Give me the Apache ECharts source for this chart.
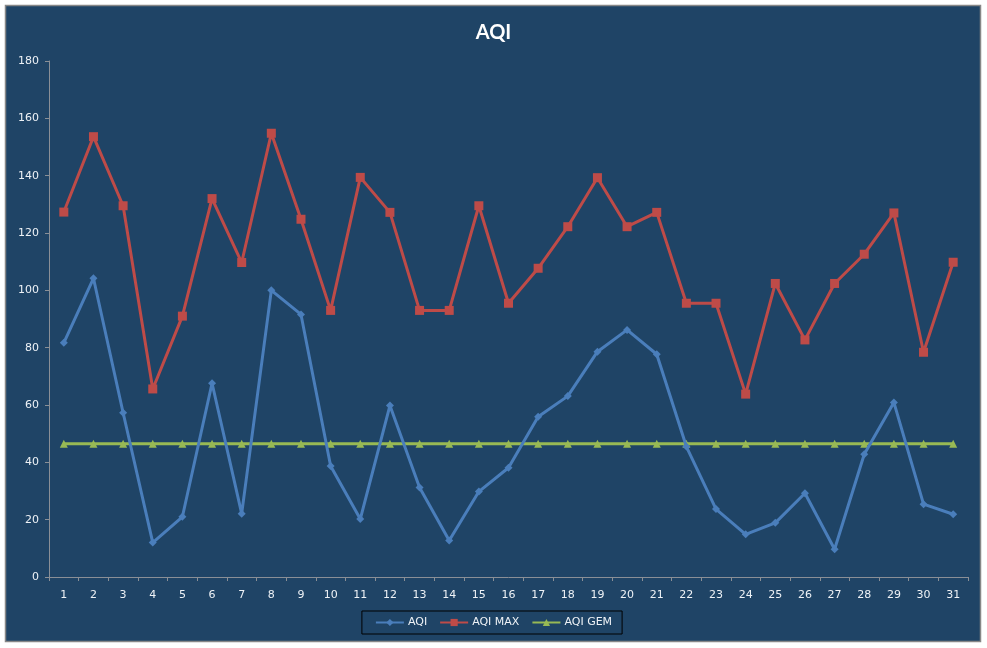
<!DOCTYPE html>
<html>
<head>
<meta charset="utf-8">
<script src="https://cdn.jsdelivr.net/npm/echarts@6/dist/echarts.min.js"></script>
<style>
  html, body { margin: 0; padding: 0; background: #fff; }
  #chart { width: 987px; height: 648px; }
</style>
</head>
<body>
<div id="chart"></div>
<script>
  // Daily AQI values
  const days = ["1","2","3","4","5","6","7","8","9","10","11","12","13","14","15","16",
                "17","18","19","20","21","22","23","24","25","26","27","28","29","30","31"];
  const aqi = [81.7, 104.2, 57.3, 12, 21, 67.6, 22.1, 100, 91.6, 38.7,
               20.2, 59.8, 31.2, 12.7, 29.8, 38.1, 55.9, 63.1, 78.6, 86.2,
               77.7, 45.5, 23.7, 14.9, 18.9, 29.2, 9.7, 42.8, 60.9, 25.4, 21.9];
  const aqiMax = [127.3, 153.6, 129.5, 65.6, 91, 132, 109.7, 154.8, 124.8, 93,
                  139.4, 127.2, 93, 93, 129.5, 95.5, 107.7, 122.2, 139.3, 122.2,
                  127.2, 95.5, 95.5, 63.8, 102.4, 82.7, 102.4, 112.6, 127, 78.4, 109.8];
  const aqiGem = [46.5, 46.5, 46.5, 46.5, 46.5, 46.5, 46.5, 46.5, 46.5, 46.5,
                  46.5, 46.5, 46.5, 46.5, 46.5, 46.5, 46.5, 46.5, 46.5, 46.5,
                  46.5, 46.5, 46.5, 46.5, 46.5, 46.5, 46.5, 46.5, 46.5, 46.5, 46.5];

  const bg = "#1F4466";
  const axisGrey = "#8A8F96";
  const labelInk = "#EEF2F6";
  const font = "'DejaVu Sans', Verdana, sans-serif";

  const chart = echarts.init(document.getElementById("chart"), null, { renderer: "canvas" });
  chart.setOption({
    animation: false,
    backgroundColor: "#fff",
    graphic: [{
      type: "rect", z: -10, silent: true,
      shape: { x: 5.5, y: 5.5, width: 975, height: 636 },
      style: { fill: bg, stroke: "#878787", lineWidth: 1.5 }
    }],
    title: {
      text: "AQI", left: "center", top: 18,
      textStyle: { color: "#fff", fontFamily: "Lato, 'Open Sans', sans-serif", fontWeight: "bold", fontSize: 20 }
    },
    grid: { left: 49, right: 19, top: 61, bottom: 71 },
    legend: {
      bottom: 14, left: "center",
      padding: [6, 10, 6, 13], itemGap: 12, itemWidth: 28, itemHeight: 9,
      borderColor: "#000", borderWidth: 1,
      textStyle: { color: labelInk, fontFamily: font, fontSize: 11, padding: [0, 0, 0, -1] },
      data: ["AQI", "AQI MAX", "AQI GEM"]
    },
    xAxis: {
      type: "category", data: days, boundaryGap: true,
      axisLine: { lineStyle: { color: axisGrey, width: 1 } },
      axisTick: { show: true, length: 4, interval: 0, lineStyle: { color: axisGrey } },
      axisLabel: { color: labelInk, fontFamily: font, fontSize: 11, margin: 13, interval: 0 }
    },
    yAxis: {
      type: "value", min: 0, max: 180, interval: 20,
      axisLine: { show: true, lineStyle: { color: axisGrey, width: 1 } },
      axisTick: { show: true, length: 4, lineStyle: { color: axisGrey } },
      splitLine: { show: false },
      axisLabel: { color: labelInk, fontFamily: font, fontSize: 11, margin: 10 }
    },
    series: [
      {
        name: "AQI", type: "line", data: aqi,
        symbol: "diamond", symbolSize: 8,
        lineStyle: { color: "#4A7EBB", width: 3 },
        itemStyle: { color: "#4A7EBB" }, z: 3
      },
      {
        name: "AQI MAX", type: "line", data: aqiMax,
        symbol: "rect", symbolSize: 9,
        lineStyle: { color: "#BE4B48", width: 3 },
        itemStyle: { color: "#BE4B48" }, z: 2
      },
      {
        name: "AQI GEM", type: "line", data: aqiGem,
        symbol: "triangle", symbolSize: 8,
        lineStyle: { color: "#98B954", width: 3 },
        itemStyle: { color: "#98B954" }, z: 1
      }
    ]
  });
</script>
</body>
</html>
